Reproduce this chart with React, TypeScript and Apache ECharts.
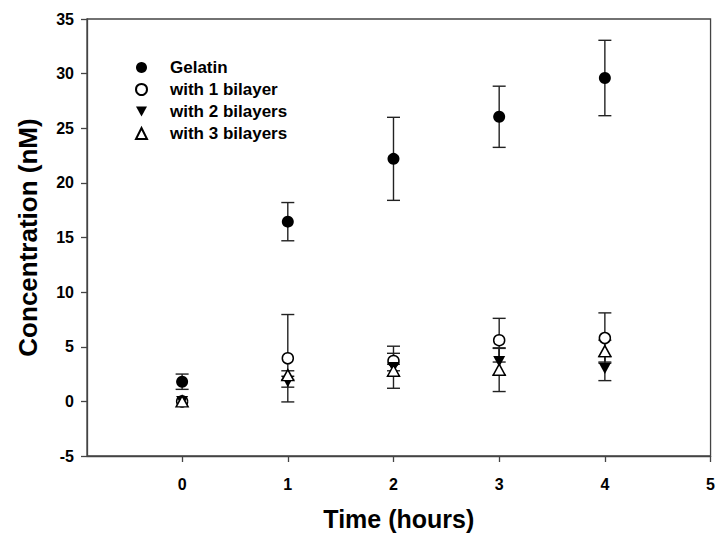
import React, { useEffect, useRef } from "react";
import * as echarts from "echarts";

// Sampling times (hours)
const times = [0, 1, 2, 3, 4];

// Mean concentrations (nM) and their error half-widths
const gelatin = [1.8, 16.45, 22.2, 26.05, 29.6];
const gelatinErr = [0.7, 1.75, 3.8, 2.8, 3.45];

const bilayer1 = [0, 3.95, 3.7, 5.6, 5.8];
const bilayer1Err = [0, 4.0, 1.35, 2.0, 2.3];

const bilayer2 = [0, 1.8, 3.1, 3.65, 3.0];
const bilayer2Err = [0, 0.5, 0.3, 1.2, 1.1];

const bilayer3 = [0, 2.4, 2.8, 2.9, 4.6];
const bilayer3Err = [0, 0.4, 1.6, 2.0, 1.0];

const xTicks = [0, 1, 2, 3, 4, 5];

const FONT = "'Liberation Sans', Arial, sans-serif";
const INK = "#000";
const AXIS = "#444";

const downTriangle = "path://M0,0 L10,0 L5,9 Z";

function points(ys: number[]) {
  return times.map((t, i) => [t, ys[i]]);
}

function errorRows(ys: number[], errs: number[]) {
  return times.map((t, i) => [t, ys[i] - errs[i], ys[i] + errs[i]]);
}

function errorSeries(ys: number[], errs: number[]) {
  return {
    type: "custom",
    silent: true,
    z: 2,
    data: errorRows(ys, errs),
    renderItem: (_params: any, api: any) => {
      const x = api.value(0);
      const lo = api.coord([x, api.value(1)]);
      const hi = api.coord([x, api.value(2)]);
      const half = 6.5;
      const style = { stroke: "#222", lineWidth: 1.4 };
      if (Math.abs(hi[1] - lo[1]) < 0.5) return { type: "group", children: [] };
      return {
        type: "group",
        children: [
          { type: "line", shape: { x1: lo[0], y1: lo[1], x2: hi[0], y2: hi[1] }, style },
          { type: "line", shape: { x1: lo[0] - half, y1: lo[1], x2: lo[0] + half, y2: lo[1] }, style },
          { type: "line", shape: { x1: hi[0] - half, y1: hi[1], x2: hi[0] + half, y2: hi[1] }, style },
        ],
      };
    },
  };
}

export default function App() {
  const ref = useRef<HTMLDivElement>(null);

  useEffect(() => {
    document.body.style.margin = "0";
    const chart = echarts.init(ref.current!, null, { renderer: "svg" });
    chart.setOption({
      animation: false,
      backgroundColor: "#fff",
      textStyle: { fontFamily: FONT },
      grid: {
        left: 87,
        right: 5,
        top: 19,
        bottom: 78,
        containLabel: false,
        show: true,
        borderColor: AXIS,
        borderWidth: 1.3,
        backgroundColor: "transparent",
      },
      legend: {
        orient: "vertical",
        left: 130,
        top: 54,
        itemWidth: 11,
        itemHeight: 11,
        itemGap: 5,
        selectedMode: false,
        textStyle: {
          fontFamily: FONT,
          fontWeight: "bold",
          fontSize: 17,
          color: INK,
          padding: [0, 0, 0, 18],
        },
        data: ["Gelatin", "with 1 bilayer", "with 2 bilayers", "with 3 bilayers"],
      },
      xAxis: {
        type: "value",
        min: -0.9,
        max: 5,
        name: "Time (hours)",
        nameLocation: "middle",
        nameGap: 50,
        nameTextStyle: { fontFamily: FONT, fontWeight: "bold", fontSize: 25, color: INK },
        axisLine: { show: true, onZero: false, lineStyle: { color: AXIS, width: 1.3 } },
        axisTick: {
          show: true,
          inside: false,
          length: 6,
          customValues: xTicks,
          lineStyle: { color: AXIS, width: 1.3 },
        },
        axisLabel: {
          customValues: xTicks,
          margin: 20,
          fontFamily: FONT,
          fontWeight: "bold",
          fontSize: 16,
          color: INK,
        },
        splitLine: { show: false },
      },
      yAxis: {
        type: "value",
        min: -5,
        max: 35,
        interval: 5,
        name: "Concentration (nM)",
        nameLocation: "middle",
        nameRotate: 90,
        nameGap: 46,
        nameTextStyle: { fontFamily: FONT, fontWeight: "bold", fontSize: 26, color: INK },
        axisLine: { show: true, onZero: false, lineStyle: { color: AXIS, width: 1.3 } },
        axisTick: { show: true, inside: false, length: 6, lineStyle: { color: AXIS, width: 1.3 } },
        axisLabel: {
          margin: 13,
          fontFamily: FONT,
          fontWeight: "bold",
          fontSize: 16,
          color: INK,
        },
        splitLine: { show: false },
      },
      series: [
        errorSeries(gelatin, gelatinErr),
        errorSeries(bilayer1, bilayer1Err),
        errorSeries(bilayer2, bilayer2Err),
        errorSeries(bilayer3, bilayer3Err),
        {
          name: "Gelatin",
          type: "scatter",
          z: 5,
          symbol: "circle",
          symbolSize: 12,
          itemStyle: { color: INK, opacity: 1 },
          data: points(gelatin),
        },
        {
          name: "with 1 bilayer",
          type: "scatter",
          z: 5,
          symbol: "circle",
          symbolSize: 11,
          itemStyle: { color: "#fff", borderColor: INK, borderWidth: 1.5, opacity: 1 },
          data: points(bilayer1),
        },
        {
          name: "with 2 bilayers",
          type: "scatter",
          z: 5,
          symbol: downTriangle,
          symbolSize: [12, 11],
          itemStyle: { color: INK, opacity: 1 },
          data: points(bilayer2),
        },
        {
          name: "with 3 bilayers",
          type: "scatter",
          z: 5,
          symbol: "triangle",
          symbolSize: [12, 11],
          itemStyle: { color: "#fff", borderColor: INK, borderWidth: 1.5, opacity: 1 },
          data: points(bilayer3),
        },
      ],
    });
    return () => chart.dispose();
  }, []);

  return <div ref={ref} style={{ width: 718, height: 536 }} />;
}
